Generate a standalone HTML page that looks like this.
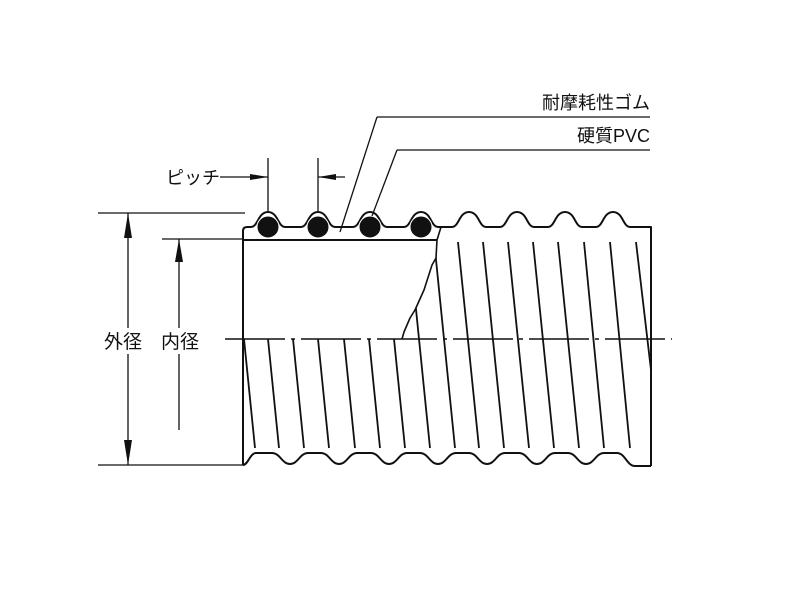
<!DOCTYPE html>
<html><head><meta charset="utf-8"><style>html,body{margin:0;padding:0;background:#fff}svg{display:block}</style></head><body>
<svg width="800" height="600" viewBox="0 0 800 600" xmlns="http://www.w3.org/2000/svg">
<defs>
<clipPath id="cutR"><path d="M441,200 L437,240 L436,258 L432,265 L424,290 L415,310 L410,318 L404,332 L402,339 L200,339 L200,600 L700,600 L700,200 Z"/></clipPath>
</defs>
<g fill="none" stroke="#111" stroke-width="2" stroke-linejoin="round">
<path d="M243,465 L243,231 Q243,227 247,227 L251,227 C258,227 258,212 268,212 C278,212 278,227 285,227 L301,227 C308,227 308,212 318,212 C328,212 328,227 335,227 L353,227 C360,227 360,212 370,212 C380,212 380,227 387,227 L404,227 C411,227 411,212 421,212 C431,212 431,227 438,227 L452,227 C459,227 459,212 469,212 C479,212 479,227 486,227 L500,227 C507,227 507,212 517,212 C527,212 527,227 534,227 L548,227 C555,227 555,212 565,212 C575,212 575,227 582,227 L596,227 C603,227 603,212 613,212 C623,212 623,227 630,227 L651,227 L651,466"/>
<path d="M243,465 C248,465 250,453 256,453 L272,453 C280,453 282,464 290,464 C298,464 300,453 308,453 L321,453 C329,453 331,464 339,464 C347,464 349,453 357,453 L371,453 C379,453 381,464 389,464 C397,464 399,453 407,453 L420,453 C428,453 430,464 438,464 C446,464 448,453 456,453 L469,453 C477,453 479,464 487,464 C495,464 497,453 505,453 L519,453 C527,453 529,464 537,464 C545,464 547,453 555,453 L568,453 C576,453 578,464 586,464 C594,464 596,453 604,453 L617,453 C625,453 627,466 635,466 L651,466"/>
<path d="M243,240 L437,240"/>
<path d="M441,227 L437,240 L436,258 L432,265 L424,290 L415,310 L410,318 L404,332 L402,339" stroke-width="1.6"/>
</g>
<g stroke="#111" stroke-width="1.8" clip-path="url(#cutR)">
<line x1="244" y1="339" x2="255" y2="448"/>
<line x1="257" y1="230" x2="279" y2="448"/>
<line x1="282" y1="230" x2="304" y2="448"/>
<line x1="307" y1="230" x2="329" y2="448"/>
<line x1="333" y1="230" x2="355" y2="448"/>
<line x1="358" y1="230" x2="380" y2="448"/>
<line x1="383" y1="230" x2="405" y2="448"/>
<line x1="408" y1="230" x2="430" y2="448"/>
<line x1="433" y1="230" x2="455" y2="448"/>
<line x1="458" y1="242" x2="479" y2="448"/>
<line x1="483" y1="242" x2="504" y2="448"/>
<line x1="508" y1="242" x2="529" y2="448"/>
<line x1="533" y1="242" x2="554" y2="448"/>
<line x1="558" y1="242" x2="579" y2="448"/>
<line x1="584" y1="242" x2="604" y2="448"/>
<line x1="610" y1="242" x2="630" y2="448"/>
<line x1="636" y1="242" x2="651" y2="370"/>
</g>
<g fill="#111" stroke="#fff" stroke-width="1">
<circle cx="268" cy="227" r="11"/><circle cx="318" cy="227" r="11"/><circle cx="370" cy="227" r="11"/><circle cx="421" cy="227" r="11"/>
</g>
<path d="M225,339 L672,339" stroke="#111" stroke-width="1.4" stroke-dasharray="60,6,4,6"/>
<g stroke="#111" stroke-width="1.3" fill="none">
<line x1="98" y1="213" x2="245" y2="213"/>
<line x1="98" y1="465" x2="243" y2="465"/>
<line x1="128" y1="213" x2="128" y2="328"/>
<line x1="128" y1="354" x2="128" y2="465"/>
<line x1="162" y1="239" x2="243" y2="239"/>
<line x1="179" y1="239" x2="179" y2="328"/>
<line x1="179" y1="354" x2="179" y2="430"/>
<line x1="268" y1="158" x2="268" y2="212"/>
<line x1="318" y1="158" x2="318" y2="212"/>
<line x1="220" y1="177" x2="268" y2="177"/>
<line x1="318" y1="177" x2="345" y2="177"/>
<polyline points="377,117 650,117"/>
<polyline points="377,117 340,232"/>
<polyline points="397,150 650,150"/>
<polyline points="397,150 372,216"/>
</g>
<g fill="#111">
<polygon points="128,213 124,238 132,238"/>
<polygon points="128,465 124,440 132,440"/>
<polygon points="179,239 175,262 183,262"/>
<polygon points="268,177 250,174 250,180"/>
<polygon points="318,177 336,174 336,180"/>
</g>
<g font-family="'Liberation Sans','Noto Sans CJK JP',sans-serif" fill="#111" font-size="19">
<text x="104" y="348">外径</text>
<text x="161" y="348">内径</text>
<text x="166" y="184" font-size="18">ピッチ</text>
<text x="650" y="109" text-anchor="end" font-size="18">耐摩耗性ゴム</text>
<text x="650" y="142" text-anchor="end" font-size="18">硬質PVC</text>
</g>
</svg>
</body></html>
